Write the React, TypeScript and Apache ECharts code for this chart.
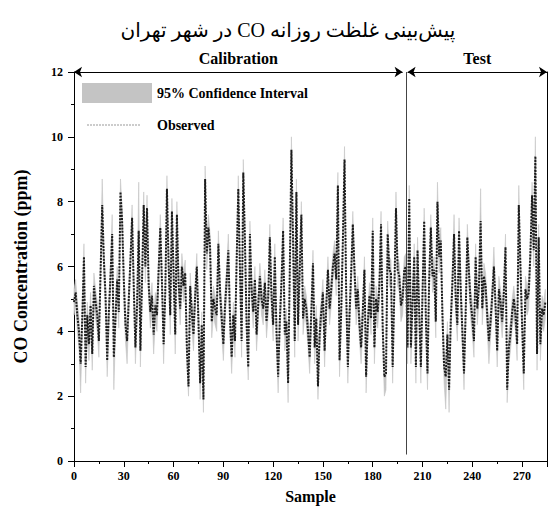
import React, { useEffect, useRef } from 'react';
import * as echarts from 'echarts';

const titleText = 'پیش‌بینی غلظت روزانه CO در شهر تهران';
const xAxisName = 'Sample';
const yAxisName = 'CO Concentration (ppm)';
const legendLabels = ['95% Confidence Interval', 'Observed'];
const segments = [
  { name: 'Calibration', from: 0, to: 198 },
  { name: 'Test', from: 201, to: 285 },
];
const splitSample = 200;
const xMax = 285;
const xInterval = 30;
const yMax = 12;
const yInterval = 2;

const observed = [
  4.9, 5.2, 4.5, 4.0, 3.0, 4.4, 6.3, 2.9, 4.5, 3.6,
  4.8, 3.3, 5.4, 4.9, 4.5, 3.7, 5.8, 7.9, 6.2, 5.1,
  3.1, 4.6, 5.7, 7.0, 3.2, 4.4, 5.6, 4.6, 8.3, 7.4,
  5.6, 4.2, 3.7, 5.0, 6.2, 7.5, 5.4, 3.5, 4.8, 7.1,
  3.4, 5.6, 7.9, 6.0, 7.8, 5.4, 4.6, 5.1, 3.9, 4.8,
  4.5, 5.9, 7.2, 5.5, 3.6, 5.2, 8.4, 6.1, 4.5, 7.7,
  5.8, 3.9, 7.6, 5.5, 4.7, 6.0, 5.4, 5.8, 3.5, 2.3,
  5.4, 4.6, 3.9, 5.1, 6.0, 4.3, 2.4, 4.2, 1.9, 8.7,
  6.4, 7.2, 6.6, 4.3, 5.0, 4.7, 4.5, 6.7, 5.2, 4.4,
  3.6, 4.8, 5.6, 6.5, 4.4, 3.2, 4.5, 3.7, 6.2, 8.4,
  5.9, 3.7, 8.9, 6.8, 4.2, 2.9, 7.0, 5.3, 4.6, 5.6,
  3.9, 4.8, 5.7, 5.0, 4.7, 5.5, 4.3, 5.0, 6.9, 5.1,
  4.2, 6.3, 4.0, 2.6, 4.3, 5.5, 7.1, 3.9, 4.3, 2.4,
  5.8, 9.6, 6.8, 3.7, 8.3, 4.2, 5.9, 7.6, 4.4, 5.0,
  4.7, 4.0, 3.2, 4.6, 6.1, 3.5, 4.4, 2.3, 3.9, 4.6,
  5.2, 3.4, 4.8, 5.9, 4.7, 5.3, 6.0, 6.4, 5.6, 8.5,
  3.1, 4.6, 6.8, 9.3, 5.2, 2.9, 4.5, 5.8, 7.3, 5.9,
  4.7, 5.3, 4.2, 3.5, 4.6, 5.9, 2.6, 4.2, 5.1, 4.4,
  7.1, 3.5, 5.0, 4.6, 5.4, 7.3, 4.1, 2.6, 2.7, 7.0,
  5.9, 5.8, 2.9, 5.2, 7.8, 5.9, 5.7, 4.8, 5.0, 5.9,
  6.0, 3.5, 8.1, 3.5, 4.9, 6.3, 2.9, 6.5, 4.6, 2.9,
  5.2, 7.4, 4.4, 2.7, 5.6, 7.2, 5.7, 5.9, 4.3, 8.0,
  6.3, 6.8, 4.5, 2.9, 2.6, 3.9, 2.2, 4.3, 5.5, 7.0,
  5.0, 4.2, 7.1, 5.3, 4.0, 2.7, 4.6, 6.9, 5.8, 4.9,
  4.4, 3.7, 6.3, 4.7, 5.4, 7.4, 4.7, 5.7, 5.4, 4.5,
  3.7, 4.3, 5.1, 6.0, 4.8, 3.4, 5.3, 4.9, 4.3, 5.2,
  6.6, 2.2, 3.5, 3.9, 4.6, 5.0, 4.5, 3.6, 7.9, 6.0,
  4.2, 2.7, 5.3, 5.0, 5.2, 6.4, 8.2, 6.5, 9.4, 3.3,
  6.9, 3.6, 4.7, 4.5, 4.9,
];

const ciHigh = [
  5.3, 5.6, 4.9, 4.4, 3.4, 4.9, 6.7, 3.4, 4.9, 4.1,
  5.2, 3.8, 5.8, 5.3, 4.9, 4.2, 6.3, 8.7, 6.6, 5.5,
  3.6, 5.0, 6.1, 7.6, 3.7, 4.8, 6.0, 5.1, 8.7, 7.8,
  6.0, 4.7, 4.2, 5.4, 6.6, 7.9, 5.8, 4.0, 5.3, 8.6,
  3.9, 6.0, 8.3, 6.4, 8.2, 5.8, 5.0, 5.5, 4.4, 5.2,
  5.0, 6.3, 7.6, 5.9, 4.1, 5.6, 8.8, 6.5, 5.0, 8.1,
  6.2, 4.4, 8.0, 5.9, 5.2, 6.4, 5.8, 6.2, 4.0, 2.8,
  5.8, 5.0, 4.4, 5.5, 6.4, 4.8, 2.9, 4.6, 2.4, 9.1,
  6.8, 7.6, 7.0, 4.8, 5.4, 5.1, 5.0, 7.1, 5.6, 4.9,
  4.1, 5.2, 6.0, 7.0, 4.9, 3.7, 4.9, 4.2, 6.6, 8.8,
  6.3, 4.2, 9.3, 7.2, 4.7, 3.4, 7.4, 5.7, 5.0, 6.0,
  4.4, 5.2, 6.1, 5.4, 5.1, 5.9, 4.8, 5.4, 7.3, 5.5,
  4.7, 6.7, 4.5, 3.1, 4.7, 5.9, 7.5, 4.4, 4.7, 2.9,
  6.2, 10.0, 7.2, 4.2, 8.7, 4.7, 6.3, 8.0, 4.9, 5.4,
  5.1, 4.5, 3.7, 5.0, 6.5, 4.0, 4.8, 2.8, 4.4, 5.0,
  5.6, 3.9, 5.2, 6.3, 5.1, 5.7, 6.4, 6.8, 6.0, 8.9,
  3.6, 5.0, 7.2, 9.7, 5.6, 3.4, 4.9, 6.2, 7.7, 6.3,
  5.1, 5.7, 4.7, 4.0, 5.0, 6.3, 3.1, 4.6, 5.5, 4.9,
  7.5, 4.0, 5.4, 5.0, 5.8, 7.7, 4.6, 3.1, 3.2, 7.4,
  6.3, 6.2, 3.4, 5.6, 8.3, 6.3, 6.1, 5.2, 5.4, 6.3,
  6.4, 4.0, 8.5, 4.0, 5.3, 6.7, 3.4, 6.9, 5.0, 3.4,
  5.6, 7.8, 4.9, 3.2, 6.0, 7.6, 6.1, 6.3, 4.8, 8.6,
  6.7, 7.2, 5.0, 3.4, 3.1, 4.3, 2.7, 4.7, 5.9, 7.6,
  5.4, 4.7, 7.5, 5.7, 4.5, 3.2, 5.0, 7.3, 6.2, 5.3,
  4.9, 4.2, 6.7, 5.1, 5.8, 8.4, 5.1, 6.1, 5.8, 4.9,
  4.2, 4.7, 5.5, 6.6, 5.2, 3.9, 5.7, 5.3, 4.8, 5.6,
  7.0, 2.7, 4.0, 4.3, 5.0, 5.4, 4.9, 4.1, 8.5, 6.4,
  4.7, 3.2, 5.7, 5.4, 5.6, 6.8, 8.6, 6.9, 10.0, 3.8,
  7.3, 4.1, 5.1, 4.9, 5.3,
];

const ciLow = [
  4.5, 4.8, 4.0, 3.5, 2.1, 4.0, 5.9, 2.4, 4.0, 3.1,
  4.3, 2.8, 5.0, 4.4, 4.0, 3.2, 5.4, 7.5, 5.7, 4.6,
  2.6, 4.1, 5.3, 6.6, 2.2, 3.9, 5.2, 4.1, 7.9, 6.9,
  5.1, 3.7, 3.0, 4.5, 5.8, 7.1, 4.9, 3.0, 4.3, 6.7,
  2.9, 5.1, 7.5, 5.5, 7.4, 4.9, 4.1, 4.6, 3.3, 4.3,
  4.0, 5.4, 6.8, 5.0, 3.0, 4.7, 8.0, 5.6, 3.9, 7.3,
  5.3, 3.3, 7.2, 5.0, 4.2, 5.6, 4.9, 5.3, 3.0, 2.0,
  4.9, 4.1, 3.4, 4.6, 5.6, 3.8, 1.9, 3.7, 1.5, 8.3,
  5.9, 6.8, 6.1, 3.8, 4.5, 4.2, 4.0, 6.3, 4.7, 3.9,
  3.1, 4.3, 5.1, 6.1, 3.9, 2.7, 4.0, 3.2, 5.8, 8.0,
  5.4, 3.2, 8.5, 6.3, 3.7, 2.5, 6.6, 4.8, 4.1, 5.1,
  3.4, 4.3, 5.3, 4.5, 4.2, 5.0, 3.8, 4.5, 6.5, 4.6,
  3.7, 5.9, 3.5, 2.1, 3.8, 5.0, 6.7, 3.4, 3.8, 1.8,
  5.3, 9.2, 6.3, 3.2, 7.9, 3.7, 5.4, 7.2, 3.9, 4.5,
  4.2, 3.5, 2.7, 4.1, 5.7, 3.0, 3.9, 1.9, 3.4, 4.1,
  4.7, 2.9, 4.3, 5.5, 4.2, 4.8, 5.6, 6.0, 5.1, 8.1,
  2.6, 4.1, 6.4, 8.9, 4.7, 2.4, 4.0, 5.3, 6.9, 5.4,
  4.2, 4.8, 3.7, 3.0, 4.1, 5.5, 2.1, 3.7, 4.6, 3.9,
  6.7, 3.0, 4.5, 4.1, 4.9, 6.9, 3.6, 2.0, 2.2, 6.6,
  5.4, 5.3, 2.4, 4.7, 7.4, 5.4, 5.2, 4.3, 4.5, 5.5,
  5.6, 3.0, 7.7, 3.0, 4.4, 5.9, 2.4, 6.1, 4.1, 2.4,
  4.7, 7.0, 3.9, 2.2, 5.1, 6.8, 5.2, 5.4, 3.8, 7.6,
  5.8, 6.4, 4.0, 2.4, 1.6, 3.4, 1.5, 3.8, 5.0, 6.6,
  4.5, 3.7, 6.7, 4.8, 3.5, 2.2, 4.1, 6.5, 5.3, 4.4,
  3.9, 3.2, 5.9, 4.2, 4.9, 7.0, 4.2, 5.2, 4.9, 4.0,
  3.0, 3.8, 4.6, 5.6, 4.3, 2.9, 4.8, 4.4, 3.8, 4.7,
  6.2, 1.8, 3.0, 3.4, 4.1, 4.5, 4.0, 3.1, 7.5, 5.5,
  3.7, 2.2, 4.8, 4.5, 4.7, 6.0, 7.8, 6.0, 9.0, 2.8,
  6.5, 3.1, 4.2, 4.0, 4.4,
];

const SERIF = '"Liberation Serif", "Times New Roman", serif';
const BAND = '#c4c4c4';

export default function App() {
  const ref = useRef<HTMLDivElement>(null);

  useEffect(() => {
    if (!ref.current) return;
    const chart = echarts.init(ref.current, null, { renderer: 'svg' });
    const samples = observed.map((_, i) => i);

    const axisText = { fontFamily: SERIF, fontWeight: 'bold', fontSize: 12, color: '#000' };

    const option: any = {
      animation: false,
      backgroundColor: '#ffffff',
      title: {
        text: '\u202B' + titleText + '\u202C',
        left: 283,
        top: 15,
        textAlign: 'center',
        textStyle: {
          fontFamily: '"Liberation Serif", "DejaVu Sans", serif',
          fontSize: 20,
          fontWeight: 'normal',
          color: '#000',
        },
      },
      grid: { left: 74, right: 3, top: 72, bottom: 50 },
      xAxis: {
        type: 'value',
        min: 0,
        max: xMax,
        interval: xInterval,
        name: xAxisName,
        nameLocation: 'middle',
        nameGap: 27,
        nameTextStyle: { fontFamily: SERIF, fontWeight: 'bold', fontSize: 16, color: '#000' },
        axisLine: { onZero: false, lineStyle: { color: '#000', width: 1 } },
        axisTick: { length: 6, lineStyle: { color: '#000' } },
        minorTick: { show: true, splitNumber: 2, length: 3, lineStyle: { color: '#000' } },
        axisLabel: {
          ...axisText,
          margin: 9,
          formatter: (v: number) => (v % xInterval === 0 ? String(v) : ''),
        },
        splitLine: { show: false },
      },
      yAxis: [
        {
          type: 'value',
          min: 0,
          max: yMax,
          interval: yInterval,
          name: yAxisName,
          nameLocation: 'middle',
          nameGap: 44,
          nameRotate: 90,
          nameTextStyle: { fontFamily: SERIF, fontWeight: 'bold', fontSize: 18, color: '#000' },
          axisLine: { show: true, onZero: false, lineStyle: { color: '#000', width: 1 } },
          axisTick: { show: true, length: 6, lineStyle: { color: '#000' } },
          minorTick: { show: true, splitNumber: 2, length: 3, lineStyle: { color: '#000' } },
          axisLabel: { ...axisText, margin: 11 },
          splitLine: { show: false },
        },
        {
          type: 'value',
          position: 'right',
          min: 0,
          max: yMax,
          interval: yInterval,
          axisLine: { show: true, onZero: false, lineStyle: { color: '#000', width: 1 } },
          axisTick: { show: false },
          axisLabel: { show: false },
          splitLine: { show: false },
        },
      ],
      series: [
        {
          type: 'custom',
          name: 'ci',
          silent: true,
          z: 1,
          data: samples.map((i) => [i, ciLow[i], ciHigh[i]]),
          encode: { x: 0, y: [1, 2] },
          renderItem: (params: any, api: any) => {
            if (params.dataIndex !== 0) return null;
            const upper = samples.map((i) => api.coord([i, ciHigh[i]]));
            const lower = samples.map((i) => api.coord([i, ciLow[i]])).reverse();
            return {
              type: 'polygon',
              shape: { points: upper.concat(lower) },
              style: { fill: BAND, stroke: BAND, lineWidth: 0.6 },
            };
          },
          markLine: {
            silent: true,
            symbol: 'none',
            label: { show: false },
            lineStyle: { color: '#444', width: 1, type: 'solid' },
            data: [[{ coord: [splitSample, 0.2] }, { coord: [splitSample, yMax] }]],
          },
        },
        {
          type: 'line',
          name: 'Observed',
          z: 3,
          data: samples.map((i) => [i, observed[i]]),
          symbol: 'none',
          lineStyle: { color: '#1c1c1c', width: 2, type: [2, 1.2] },
          markLine: {
            silent: true,
            symbol: ['arrow', 'arrow'],
            symbolSize: 8,
            lineStyle: { color: '#000', width: 1, type: 'solid' },
            label: {
              show: true,
              position: 'middle',
              formatter: '{b}',
              fontFamily: SERIF,
              fontWeight: 'bold',
              fontSize: 16,
              color: '#000',
              distance: 6,
            },
            data: segments.map((s) => [
              { name: s.name, coord: [s.from, yMax] },
              { coord: [s.to, yMax] },
            ]),
          },
        },
      ],
      graphic: [
        { type: 'rect', shape: { x: 82, y: 83, width: 70, height: 20 }, style: { fill: BAND } },
        {
          type: 'text',
          x: 157,
          y: 93,
          style: {
            text: legendLabels[0],
            fontFamily: SERIF,
            fontWeight: 'bold',
            fontSize: 14,
            fill: '#000',
            verticalAlign: 'middle',
          },
        },
        {
          type: 'line',
          shape: { x1: 87, y1: 125, x2: 141, y2: 125 },
          style: { stroke: '#999', lineWidth: 1, lineDash: [2, 1] },
        },
        {
          type: 'text',
          x: 157,
          y: 125,
          style: {
            text: legendLabels[1],
            fontFamily: SERIF,
            fontWeight: 'bold',
            fontSize: 14,
            fill: '#000',
            verticalAlign: 'middle',
          },
        },
      ],
    };

    chart.setOption(option);
    return () => chart.dispose();
  }, []);

  return (
    <div
      ref={ref}
      style={{ position: 'fixed', left: 0, top: 0, width: 550, height: 511, background: '#fff' }}
    />
  );
}
